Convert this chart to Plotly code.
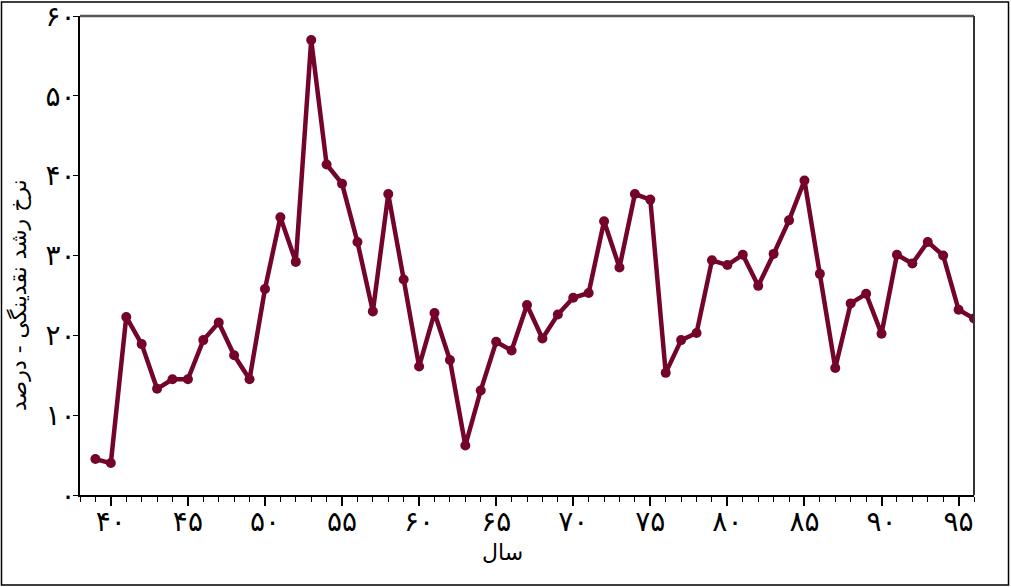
import plotly.graph_objects as go

years = list(range(39, 97))
growth = [4.5, 4.0, 22.3, 18.9, 13.3, 14.5, 14.5, 19.4, 21.6, 17.5,
          14.5, 25.8, 34.8, 29.2, 57.0, 41.4, 39.0, 31.7, 23.0, 37.7,
          27.0, 16.1, 22.8, 16.9, 6.2, 13.1, 19.2, 18.1, 23.8, 19.6,
          22.6, 24.7, 25.3, 34.3, 28.5, 37.7, 37.0, 15.3, 19.4, 20.3,
          29.4, 28.8, 30.1, 26.2, 30.2, 34.4, 39.4, 27.7, 15.9, 24.0,
          25.2, 20.2, 30.1, 29.0, 31.7, 30.0, 23.2, 22.1]

x_tick_vals = [40, 45, 50, 55, 60, 65, 70, 75, 80, 85, 90, 95]
x_tick_text = ["۴۰", "۴۵", "۵۰", "۵۵", "۶۰", "۶۵", "۷۰", "۷۵", "۸۰", "۸۵", "۹۰", "۹۵"]
y_tick_vals = [0, 10, 20, 30, 40, 50, 60]
y_tick_text = ["۰", "۱۰", "۲۰", "۳۰", "۴۰", "۵۰", "۶۰"]

x_title = "سال"
y_title = "نرخ رشد نقدینگی - درصد"

color = "#74042c"
font_family = "DejaVu Sans"

fig = go.Figure()
fig.add_trace(go.Scatter(
    x=years, y=growth, mode="lines+markers",
    line=dict(color=color, width=4.5),
    marker=dict(color=color, size=10),
    showlegend=False,
))

fig.update_layout(
    width=1011, height=587,
    margin=dict(l=80, r=37, t=16, b=92, autoexpand=False),
    paper_bgcolor="white", plot_bgcolor="white",
    font=dict(family=font_family, color="black"),
    xaxis=dict(
        range=[38, 96], showgrid=False, zeroline=False, automargin=False,
        showline=True, linecolor="black", linewidth=1.5,
        tickmode="array", tickvals=x_tick_vals, ticktext=x_tick_text,
        ticks="outside", ticklen=9, tickwidth=1.5, tickcolor="black",
        tickfont=dict(size=28), ticklabelstandoff=-8,
        minor=dict(tickmode="linear", tick0=38, dtick=1, ticks="outside",
                   ticklen=5, tickwidth=1.2, tickcolor="black", showgrid=False),
    ),
    yaxis=dict(
        range=[0, 60], showgrid=False, zeroline=False, automargin=False,
        showline=True, linecolor="black", linewidth=1.5,
        tickmode="array", tickvals=y_tick_vals, ticktext=y_tick_text,
        ticks="outside", ticklen=5, tickwidth=1.2, tickcolor="black",
        tickfont=dict(size=28), ticklabelstandoff=-8, ticklabeloverflow="allow",
    ),
    annotations=[
        dict(text=x_title, xref="paper", yref="paper", x=0.473, y=-0.121,
             showarrow=False, font=dict(size=22), xanchor="center", yanchor="middle"),
        dict(text=y_title, xref="paper", yref="paper", x=-0.0694, y=0.4175,
             showarrow=False, textangle=-90, font=dict(size=22),
             xanchor="center", yanchor="middle"),
    ],
    shapes=[
        dict(type="line", xref="paper", yref="paper", x0=0, x1=1, y0=1, y1=1,
             line=dict(color="#555555", width=2.5)),
        dict(type="line", xref="paper", yref="paper", x0=1, x1=1, y0=0, y1=1,
             line=dict(color="#333333", width=2)),
        dict(type="rect", xref="paper", yref="paper",
             x0=-0.0878, x1=1.0386, y0=-0.1879, y1=1.0292,
             line=dict(color="black", width=1.5), fillcolor="rgba(0,0,0,0)"),
    ],
)

post = ("var gd=document.getElementById('{plot_id}');"
        "document.body.style.margin='0';document.body.style.overflow='hidden';"
        "gd.style.position='fixed';gd.style.left='0px';gd.style.top='0px';")

fig.write_html("out.html", post_script=post, config={"displayModeBar": False})
